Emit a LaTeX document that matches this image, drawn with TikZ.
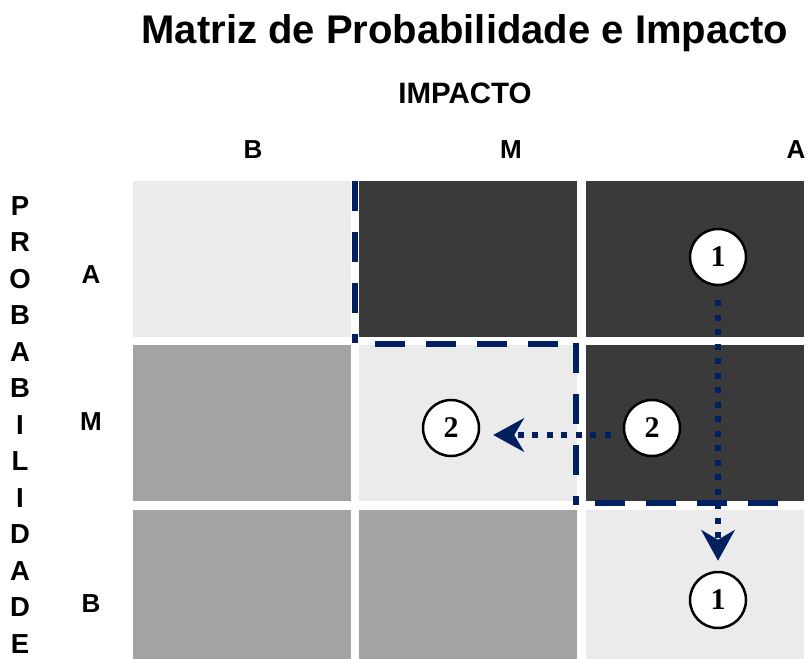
\documentclass[tikz,border=0pt]{standalone}
\usepackage{fontspec}
\setmainfont{Liberation Sans}
\newfontfamily\numfont{Liberation Serif}
\usetikzlibrary{arrows.meta,positioning}
\definecolor{navy}{HTML}{002060}
\definecolor{lightcell}{HTML}{EBEBEB}
\definecolor{midcell}{HTML}{A3A3A3}
\definecolor{darkcell}{HTML}{3A3A3A}

\begin{document}
\begin{tikzpicture}[x=1pt,y=-1pt,node distance=8pt,
    cell/.style={minimum width=218pt,minimum height=156pt,inner sep=0pt},
    lab/.style={font=\bfseries\fontsize{26}{26}\selectfont,anchor=base,inner sep=0pt},
    risk/.style={circle,draw=black,line width=2.5pt,fill=white,minimum size=56pt,inner sep=0pt,
                 font=\numfont\bfseries\fontsize{30}{30}\selectfont},
    border/.style={draw=navy,line width=6pt,dash pattern=on 30pt off 21pt},
    move/.style={draw=navy,line width=6pt,dash pattern=on 6pt off 8.5pt,
                 -{Stealth[length=31pt,width=34pt,inset=10pt,line width=1.5pt]}}]
  \useasboundingbox (0,0) rectangle (812,659);

  % titles
  \node[anchor=base,inner sep=0pt,font=\bfseries\fontsize{40}{40}\selectfont] (title) at (465,43) {Matriz de Probabilidade e Impacto};
  \node[anchor=base,inner sep=0pt,font=\bfseries\fontsize{29.5}{30}\selectfont] (impacto) at (465,103) {IMPACTO};
  \node[lab] (i_b) at (253,158) {B};
  \node[lab] (i_m) at (511,158) {M};
  \node[lab] (i_a) at (796,158) {A};
  \node[lab] (p_a) at (91,283) {A};
  \node[lab] (p_m) at (91,430) {M};
  \node[lab] (p_b) at (91,612) {B};
  \foreach \l [count=\i from 0] in {P,R,O,B,A,B,I,L,I,D,A,D,E}
    \node[lab,font=\bfseries\fontsize{27.5}{28}\selectfont] (v_\i) at (20,215+36.5*\i) {\l};

  % matrix cells
  \node[cell,fill=lightcell] (c_11) at (242,259) {};
  \node[cell,fill=darkcell]  (c_12) [right=of c_11] {};
  \node[cell,fill=darkcell]  (c_13) [right=of c_12] {};
  \node[cell,fill=midcell]   (c_21) [below=of c_11] {};
  \node[cell,fill=lightcell] (c_22) [right=of c_21] {};
  \node[cell,fill=darkcell]  (c_23) [right=of c_22] {};
  \node[cell,fill=midcell]   (c_31) [below=of c_21] {};
  \node[cell,fill=midcell]   (c_32) [right=of c_31] {};
  \node[cell,fill=lightcell] (c_33) [right=of c_32] {};

  % tolerance line
  \draw[border] (355,181) -- (355,343);
  \draw[border] (375,344) -- (560,344);
  \draw[border] (576,343) -- (576,505);
  \draw[border] (595,503) -- (790,503);

  % risks
  \node[risk] (r1_a) at (718,257) {1};
  \node[risk] (r1_b) at (718,600) {1};
  \node[risk] (r2_a) at (652,428) {2};
  \node[risk] (r2_b) at (451,428) {2};

  \draw[move,shorten <=14pt,shorten >=10pt] (r1_a) -- (r1_b);
  \draw[move,shorten <=12pt,shorten >=13pt] ([yshift=-7pt]r2_a.west) -- ([yshift=-7pt]r2_b.east);
\end{tikzpicture}
\end{document}
